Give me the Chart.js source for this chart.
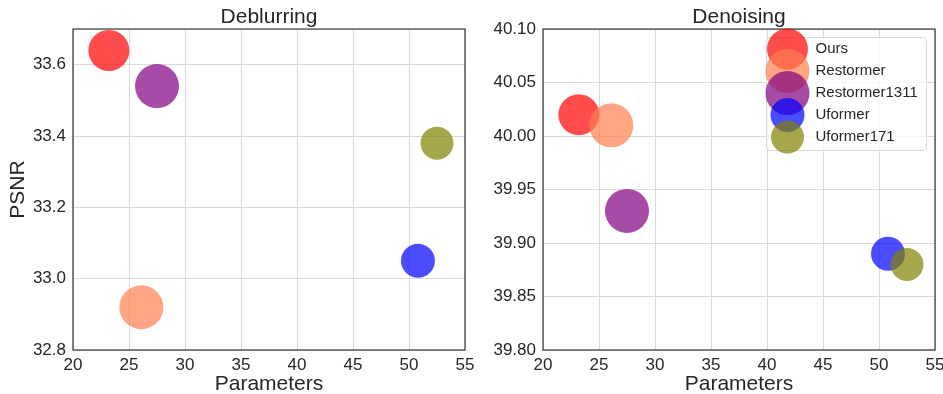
<!DOCTYPE html>
<html>
<head>
<meta charset="utf-8">
<script src="https://cdn.jsdelivr.net/npm/chart.js@4/dist/chart.umd.min.js"></script>
<style>
  html, body { margin: 0; padding: 0; background: #fff; overflow: hidden; width: 943px; height: 394px; }
  canvas { position: absolute; left: 0; top: 0; }
</style>
</head>
<body>
<canvas id="deblur" width="960" height="394"></canvas>
<canvas id="denoise" width="960" height="394"></canvas>
<script>
// Methods compared, their parameter counts (M) and PSNR on each task
const methods = ['Ours', 'Restormer', 'Restormer1311', 'Uformer', 'Uformer171'];
const params = [23.2, 26.1, 27.5, 50.8, 52.5];
const psnrDeblur = [33.64, 32.92, 33.54, 33.05, 33.38];
const psnrDenoise = [40.02, 40.01, 39.93, 39.89, 39.88];

// Axis ticks
const xTicks = [20, 25, 30, 35, 40, 45, 50, 55];
const yTicksDeblur = [32.8, 33.0, 33.2, 33.4, 33.6];
const yTicksDenoise = [39.80, 39.85, 39.90, 39.95, 40.00, 40.05, 40.10];

// Marker styling per method
const markerRadius = [20.5, 22, 22, 17, 16.5];
const markerColors = [
  'rgba(255,0,0,0.7)',
  'rgba(255,127,80,0.7)',
  'rgba(128,0,128,0.7)',
  'rgba(0,0,255,0.7)',
  'rgba(128,128,0,0.7)'
];

const FONT = '"Liberation Sans", Arial, sans-serif';
const TEXT = '#262626';
const GRID = '#d9d9d9';

// Full box around the plot area
const framePlugin = {
  id: 'frame',
  afterDatasetsDraw(chart) {
    const { ctx, chartArea: { left, top, right, bottom } } = chart;
    ctx.save();
    ctx.strokeStyle = '#3a3a3a';
    ctx.lineWidth = 1.25;
    ctx.strokeRect(left, top, right - left, bottom - top);
    ctx.restore();
  }
};

// Legend with markers at their plotted size
const bubbleLegendPlugin = {
  id: 'bubbleLegend',
  afterDraw(chart) {
    const { ctx, chartArea: { right, top } } = chart;
    const w = 160, h = 113;
    const x0 = right - 8.5 - w, y0 = top + 8.5;
    ctx.save();
    ctx.beginPath();
    ctx.roundRect(x0, y0, w, h, 3);
    ctx.fillStyle = 'rgba(255,255,255,0.8)';
    ctx.fill();
    ctx.strokeStyle = 'rgba(204,204,204,0.8)';
    ctx.lineWidth = 1;
    ctx.stroke();
    methods.forEach((name, i) => {
      const cy = y0 + 11.5 + i * 22;
      ctx.beginPath();
      ctx.arc(x0 + 21, cy, markerRadius[i], 0, Math.PI * 2);
      ctx.fillStyle = markerColors[i];
      ctx.fill();
    });
    ctx.fillStyle = TEXT;
    ctx.font = '15px ' + FONT;
    ctx.textBaseline = 'middle';
    ctx.textAlign = 'left';
    methods.forEach((name, i) => {
      ctx.fillText(name, x0 + 49, y0 + 11.5 + i * 22);
    });
    ctx.restore();
  }
};

function makeChart(id, title, psnr, yTicks, yMin, yMax, decimals, withYTitle, withLegend, padLeft, padRight) {
  const datasets = methods.map((m, i) => ({
    label: m,
    data: [{ x: params[i], y: psnr[i], r: markerRadius[i] }],
    backgroundColor: markerColors[i],
    borderWidth: 0,
    hoverRadius: 0,
    order: methods.length - i
  }));
  const plugins = [framePlugin];
  if (withLegend) plugins.push(bubbleLegendPlugin);
  return new Chart(document.getElementById(id), {
    type: 'bubble',
    data: { datasets },
    plugins,
    options: {
      responsive: false,
      devicePixelRatio: 1,
      animation: false,
      events: [],
      layout: { padding: { left: padLeft, right: padRight, top: 0, bottom: 0 } },
      plugins: {
        legend: { display: false },
        tooltip: { enabled: false },
        title: {
          display: true,
          text: title,
          fullSize: false,
          color: TEXT,
          font: { family: FONT, size: 21, weight: 'normal', lineHeight: 1.05 },
          padding: { top: 6, bottom: 1 }
        }
      },
      scales: {
        x: {
          type: 'linear',
          min: 20,
          max: 55,
          afterBuildTicks: s => { s.ticks = xTicks.map(v => ({ value: v })); },
          afterFit: s => { s.height = 44; },
          border: { display: false },
          grid: { color: GRID, lineWidth: 1, drawTicks: false },
          ticks: {
            color: TEXT,
            font: { family: FONT, size: 17 },
            padding: 5,
            maxRotation: 0,
            autoSkip: false,
            callback: v => String(v)
          },
          title: {
            display: true,
            text: 'Parameters',
            color: TEXT,
            font: { family: FONT, size: 21, lineHeight: 0.9 },
            padding: { top: 0, bottom: 0 }
          }
        },
        y: {
          type: 'linear',
          min: yMin,
          max: yMax,
          afterBuildTicks: s => { s.ticks = yTicks.map(v => ({ value: v })); },
          afterFit: s => { s.width = 73; },
          border: { display: false },
          grid: { color: GRID, lineWidth: 1, drawTicks: false },
          ticks: {
            color: TEXT,
            font: { family: FONT, size: 17 },
            padding: 7,
            autoSkip: false,
            callback: v => Number(v).toFixed(decimals)
          },
          title: {
            display: withYTitle,
            text: 'PSNR',
            color: TEXT,
            font: { family: FONT, size: 21, lineHeight: 1 },
            padding: { top: 8, bottom: 0 }
          }
        }
      }
    }
  });
}

makeChart('deblur', 'Deblurring', psnrDeblur, yTicksDeblur, 32.8, 33.7, 1, true, false, 0, 495);
makeChart('denoise', 'Denoising', psnrDenoise, yTicksDenoise, 39.80, 40.10, 2, false, true, 470, 25);
</script>
</body>
</html>
